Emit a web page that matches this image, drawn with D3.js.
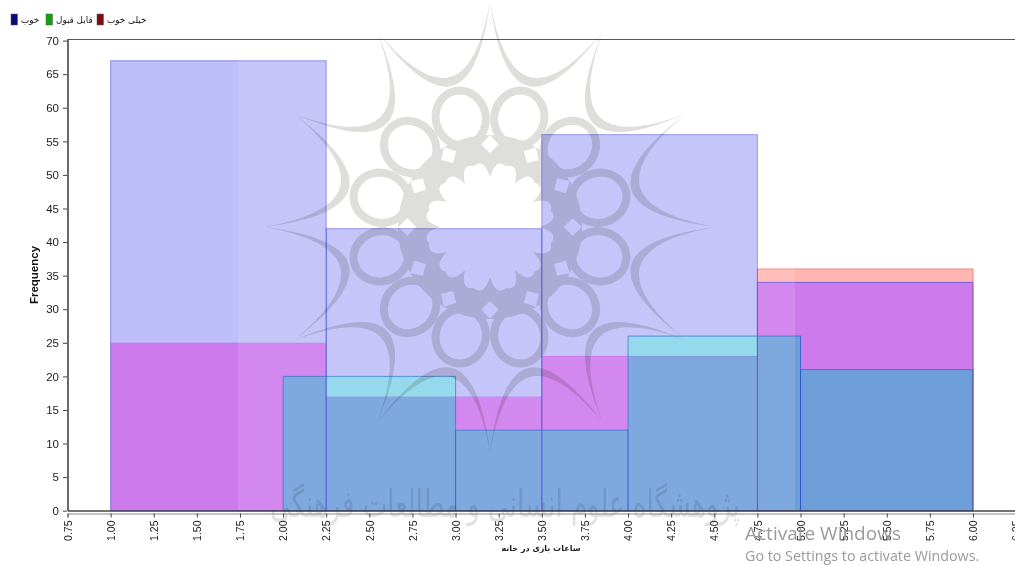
<!DOCTYPE html>
<html><head><meta charset="utf-8">
<script src="https://cdnjs.cloudflare.com/ajax/libs/d3/7.8.5/d3.min.js"></script>
<style>
html,body{margin:0;padding:0;background:#fff;overflow:hidden}
svg{display:block}
text{font-family:"Liberation Sans",Arial,sans-serif;fill:#222}
</style></head><body>
<svg id="c" width="1015" height="565"></svg>
<script>
const seriesNames = ["خوب","قابل قبول","خیلی خوب"];
const legendColors = ["#0a0a78","#0fa30f","#7e0c12"];
const xLabel = "ساعات بازی در خانه";
const yLabel = "Frequency";
const blueEdges = [1,2.25,3.5,4.75,6];
const blueValues = [67,42,56,34];
const redEdges = [1,2.25,3.5,4.75,6];
const redValues = [25,17,23,36];
const greenEdges = [2,3,4,5,6];
const greenValues = [20,12,26,21];
const xTicks = [0.75,1,1.25,1.5,1.75,2,2.25,2.5,2.75,3,3.25,3.5,3.75,4,4.25,4.5,4.75,5,5.25,5.5,5.75,6,6.25];
const yTicks = [0,5,10,15,20,25,30,35,40,45,50,55,60,65,70];

const svg = d3.select("#c");
const x = d3.scaleLinear().domain([0.75,6]).range([67.5,973]);
const y = d3.scaleLinear().domain([0,70]).range([510.7,40.6]);

const toBars = (e,v) => v.map((d,i)=>({x0:e[i],x1:e[i+1],v:d}));
const blue = toBars(blueEdges,blueValues), red = toBars(redEdges,redValues), green = toBars(greenEdges,greenValues);
const sets = {b:blue,r:red,g:green};

// Overlap colours: each elementary cell is filled by which series cover it
const mix = {b:"#bebefa", r:"#ffb6b2", br:"#cd7aec", bg:"#88d6ea", brg:"#6f9fdb", rg:"#6f9fdb", g:"#88d6ea"};
const xs = [...new Set([...blueEdges,...redEdges,...greenEdges])].sort(d3.ascending);
const cells = [];
d3.pairs(xs).forEach(([a,b])=>{
  const cover = {};
  Object.keys(sets).forEach(k=>{const f=sets[k].find(d=>d.x0<=a&&d.x1>=b); cover[k]=f?f.v:0;});
  const ys=[0,...new Set(Object.values(cover))].sort(d3.ascending);
  d3.pairs(ys).forEach(([lo,hi])=>{
    if(lo===hi) return;
    const key=["b","r","g"].filter(k=>cover[k]>=hi).join("");
    if(key) cells.push({a,b,lo,hi,key});
  });
});
svg.append("g").selectAll("rect").data(cells).join("rect")
  .attr("x",d=>x(d.a)).attr("width",d=>x(d.b)-x(d.a))
  .attr("y",d=>y(d.hi)).attr("height",d=>y(d.lo)-y(d.hi))
  .attr("fill",d=>mix[d.key]).attr("shape-rendering","crispEdges");

// Outlines of each series' bars
function outline(data,stroke){
  svg.append("g").selectAll("rect").data(data).join("rect")
    .attr("x",d=>x(d.x0)).attr("width",d=>x(d.x1)-x(d.x0))
    .attr("y",d=>y(d.v)).attr("height",d=>y(0)-y(d.v))
    .attr("fill","none").attr("stroke",stroke).attr("stroke-width",1);
}
outline(red,(d,i)=>d.v>blueValues[i]?"rgba(250,70,70,.6)":"rgba(170,40,220,.2)");
outline(blue,"rgba(60,70,215,.6)");
outline(green,"rgba(35,80,200,.65)");

// Lighter vertical band from the screenshot
svg.append("rect").attr("x",238).attr("y",40).attr("width",557).attr("height",470)
  .attr("fill","#fff").attr("opacity",.11);

// Watermark rosette
const wmColor="#dedeDA";
const wm = svg.append("g").attr("transform","translate(490,227)")
  .style("mix-blend-mode","multiply").attr("fill",wmColor).attr("stroke","none");
const P=(r,deg)=>{const t=(deg-90)*Math.PI/180;return [r*Math.cos(t),r*Math.sin(t)];};
const pt=p=>p[0].toFixed(1)+" "+p[1].toFixed(1);
// One compound path so overlaps are not darkened twice
const ringD = (cx,cy,rx,ry,deg)=>{
  const seg=[];
  d3.range(0,360,10).forEach(t=>{
    const u=t*Math.PI/180, r=deg*Math.PI/180;
    const ex=rx*Math.cos(u), ey=ry*Math.sin(u);
    seg.push([cx+ex*Math.cos(r)-ey*Math.sin(r), cy+ex*Math.sin(r)+ey*Math.cos(r)]);
  });
  return "M"+seg.map(pt).join("L")+"Z";
};
let crescent="", ovals="";
d3.range(12).forEach(i=>{
  const a=i*30;
  const t0=P(226,a), t1=P(226,a+30);
  crescent+=`M${pt(t0)}Q${pt(P(74,a+15))} ${pt(t1)}Q${pt(P(92,a+15))} ${pt(t0)}Z`;
  const c=P(113,a+15);
  ovals+=ringD(c[0],c[1],25,27.5,a+15);
});
let hub="";
d3.range(0,360,3).forEach((a,i)=>{ hub+=(i?"L":"M")+pt(P(92,a)); }); hub+="Z";
d3.range(12).forEach(i=>{
  const a=i*30;
  const p0=P(50,a), p1=P(50,a+30);
  hub+=(i?"":`M${pt(p0)}`)+`Q${pt(P(70,a+5))} ${pt(P(63,a+15))}Q${pt(P(70,a+25))} ${pt(p1)}`;
}); hub+="Z";
d3.range(12).forEach(i=>{
  const a=i*30;
  hub+=`M${pt(P(74,a))}L${pt(P(83,a-6))}L${pt(P(92,a))}L${pt(P(83,a+6))}Z`;
});
const m = wm.append("mask").attr("id","mOval");
wm.append("path").attr("d",hub).attr("fill-rule","evenodd");
wm.append("path").attr("d",crescent);
wm.append("path").attr("d",ovals).attr("fill","none").attr("stroke",wmColor).attr("stroke-width",8);

// Persian watermark line
svg.append("text").text("پژوهشگاه علوم انسانی و مطالعات فرهنگی")
  .attr("x",505).attr("y",517).attr("text-anchor","middle")
  .attr("textLength",470).attr("lengthAdjust","spacingAndGlyphs")
  .style("font-family","DejaVu Sans").style("font-size","38px")
  .style("fill","#e2e2e2").style("mix-blend-mode","multiply");

// Frame
svg.append("line").attr("x1",68).attr("x2",1015).attr("y1",39.5).attr("y2",39.5).attr("stroke","#555").attr("stroke-width",1.2);
svg.append("line").attr("x1",68).attr("x2",68).attr("y1",39).attr("y2",511).attr("stroke","#444").attr("stroke-width",1.6);
svg.append("line").attr("x1",68).attr("x2",1015).attr("y1",511).attr("y2",511).attr("stroke","#444").attr("stroke-width",1.6);

// Axes
const xFull = d3.scaleLinear().domain([0.75,6.25]).range([x(0.75),x(6.25)]);
const xAxis = d3.axisBottom(xFull).tickValues(xTicks).tickFormat(d3.format(".2f")).tickSize(4).tickPadding(5);
const gx = svg.append("g").attr("transform","translate(0,513.5)").call(xAxis);
gx.select(".domain").attr("stroke","#888").attr("stroke-width",1);
gx.selectAll(".tick line").attr("stroke","#444");
gx.selectAll("text").attr("transform","rotate(-90)").attr("text-anchor","end")
  .attr("x",-7).attr("y",0).attr("dy","0.35em").style("font-size","10.5px").style("font-family","Liberation Sans").attr("fill","#222");
const yAxis = d3.axisLeft(y).tickValues(yTicks).tickSize(4).tickPadding(4);
const gy = svg.append("g").attr("transform","translate(67,0)").call(yAxis);
gy.select(".domain").remove();
gy.selectAll(".tick line").attr("stroke","#444");
gy.selectAll("text").style("font-size","11.5px").style("font-family","Liberation Sans").attr("fill","#222");

// Axis titles
svg.append("text").text(yLabel).attr("transform","translate(38,275) rotate(-90)")
  .attr("text-anchor","middle").style("font-size","11.5px").style("font-weight","bold").style("fill","#111");
svg.append("text").text(xLabel).attr("x",541).attr("y",551).attr("text-anchor","middle")
  .style("font-family","DejaVu Sans").style("font-size","8px").style("font-weight","bold").style("fill","#222");

// Legend
const legX = [11,46,97];
const lg = svg.append("g").selectAll("g").data(seriesNames).join("g")
  .attr("transform",(d,i)=>`translate(${legX[i]},14)`);
lg.append("rect").attr("width",6.5).attr("height",11).attr("fill",(d,i)=>legendColors[i])
  .attr("stroke","#555").attr("stroke-width",.5);
lg.append("text").text(d=>d).attr("x",10).attr("y",9)
  .style("font-family","DejaVu Sans").style("font-size","8.8px").style("fill","#111");

// Windows activation notice
svg.append("text").text("Activate Windows").attr("x",745).attr("y",540)
  .style("font-family","Open Sans").style("font-size","19px").style("fill","#9a9a9a");
svg.append("text").text("Go to Settings to activate Windows.").attr("x",745).attr("y",561)
  .style("font-family","Open Sans").style("font-size","14.3px").style("fill","#9a9a9a");
</script></body></html>
